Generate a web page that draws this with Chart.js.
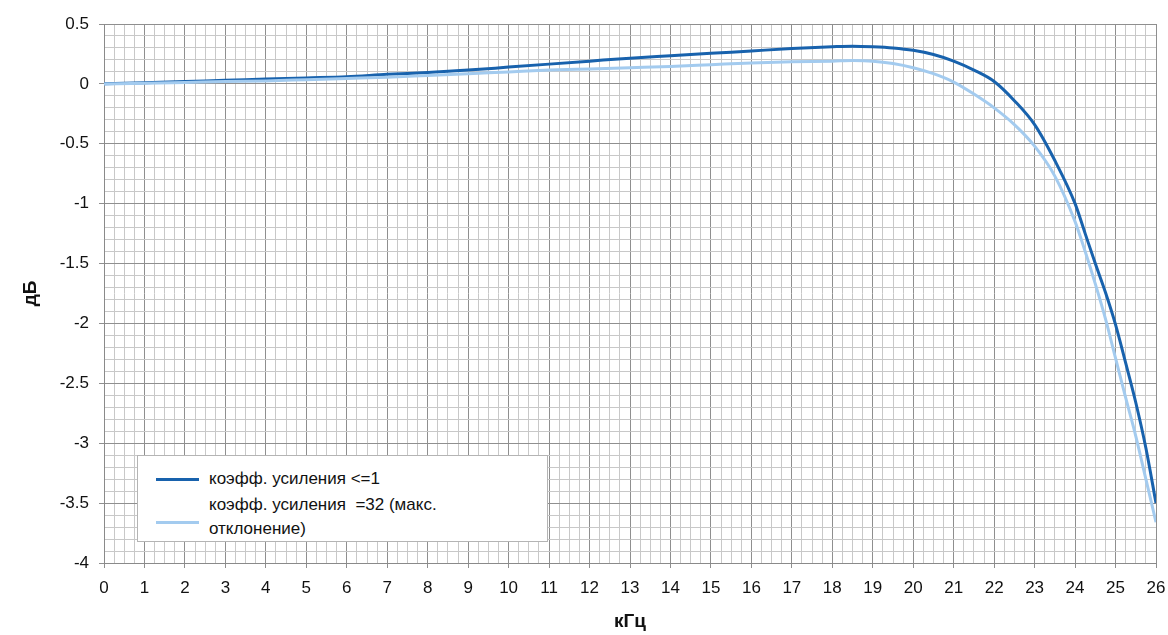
<!DOCTYPE html>
<html>
<head>
<meta charset="utf-8">
<script src="https://cdn.jsdelivr.net/npm/chart.js@4/dist/chart.umd.min.js"></script>
<style>
  body { margin: 0; background: #fff; }
  #wrap { position: relative; width: 1168px; height: 635px; }
  #legend {
    position: absolute; left: 137px; top: 455px; width: 411px; height: 87px;
    background: #fff; border: 1px solid #b4b4b4; box-sizing: border-box;
    font: 17px "Liberation Sans", Arial, sans-serif; color: #111;
  }
  #legend .sw { position: absolute; left: 18px; width: 43px; height: 3px; }
  #legend .tx { position: absolute; left: 71px; line-height: 24px; white-space: nowrap; }
</style>
</head>
<body>
<div id="wrap">
  <canvas id="chart"></canvas>
  <div id="legend">
    <div class="sw" id="sw1" style="top:22px"></div>
    <div class="tx" id="tx1" style="top:11px"></div>
    <div class="sw" id="sw2" style="top:65px"></div>
    <div class="tx" id="tx2" style="top:37px"></div>
  </div>
</div>
<script>
// frequency points, kHz
const freqs = [0, 1, 2, 3, 4, 5, 6, 7, 8, 9, 10, 11, 12, 13, 14, 15, 16, 17, 18, 18.5, 19, 19.5, 20, 20.5, 21, 21.5, 22, 22.5, 23, 23.5, 24, 24.25, 24.5, 24.75, 25, 25.25, 25.5, 25.75, 26];

// gain <= 1
const gainLow = [0, 0.01, 0.02, 0.03, 0.04, 0.05, 0.06, 0.08, 0.095, 0.115, 0.14, 0.165, 0.19, 0.215, 0.235, 0.255, 0.275, 0.295, 0.31, 0.315, 0.31, 0.3, 0.28, 0.245, 0.19, 0.115, 0.02, -0.14, -0.34, -0.64, -1.0, -1.25, -1.5, -1.74, -2.01, -2.33, -2.66, -3.04, -3.5];

// gain = 32 (max deviation)
const gainHigh = [0, 0.005, 0.012, 0.02, 0.025, 0.035, 0.045, 0.055, 0.07, 0.085, 0.1, 0.115, 0.125, 0.135, 0.145, 0.16, 0.175, 0.185, 0.19, 0.195, 0.19, 0.17, 0.135, 0.085, 0.015, -0.085, -0.2, -0.34, -0.52, -0.77, -1.15, -1.4, -1.67, -1.96, -2.29, -2.62, -2.94, -3.3, -3.66];

const seriesLabels = ['коэфф. усиления <=1', 'коэфф. усиления  =32 (макс. отклонение)'];
const seriesColors = ['#1862ad', '#a3cbef'];

const yTickLabels = ['0.5', '0', '-0.5', '-1', '-1.5', '-2', '-2.5', '-3', '-3.5', '-4'];

// legend
document.getElementById('sw1').style.background = seriesColors[0];
document.getElementById('sw2').style.background = seriesColors[1];
document.getElementById('tx1').textContent = seriesLabels[0];
document.getElementById('tx2').innerHTML = 'коэфф. усиления &nbsp;=32 (макс.<br>отклонение)';

const isInt = v => Math.abs(v - Math.round(v)) < 1e-6;
const isHalf = v => Math.abs(v * 2 - Math.round(v * 2)) < 1e-6;

const ctx = document.getElementById('chart').getContext('2d');
new Chart(ctx, {
    type: 'line',
    data: {
        datasets: [{
            label: seriesLabels[0],
            data: freqs.map((f, i) => ({ x: f, y: gainLow[i] })),
            borderColor: seriesColors[0],
            borderWidth: 3,
            pointRadius: 0,
            cubicInterpolationMode: 'monotone',
            order: 1
        }, {
            label: seriesLabels[1],
            data: freqs.map((f, i) => ({ x: f, y: gainHigh[i] })),
            borderColor: seriesColors[1],
            borderWidth: 3,
            pointRadius: 0,
            cubicInterpolationMode: 'monotone',
            order: 0
        }]
    },
    options: {
        responsive: true,
        maintainAspectRatio: false,
        animation: false,
        layout: { padding: { top: 24, right: 12, left: 0, bottom: 0 } },
        plugins: { legend: { display: false }, tooltip: { enabled: false } },
        scales: {
            x: {
                type: 'linear',
                min: 0, max: 26,
                afterFit: s => { s.height = 72; s.paddingRight = 0; s.paddingLeft = 0; },
                border: { display: true, color: '#8a8a8a' },
                grid: {
                    color: c => isInt(c.tick.value) ? '#8f8f8f' : '#c8c8c8',
                    tickColor: c => isInt(c.tick.value) ? '#8f8f8f' : 'transparent',
                    tickLength: 5
                },
                ticks: {
                    stepSize: 0.25,
                    autoSkip: false,
                    maxTicksLimit: 200,
                    maxRotation: 0,
                    padding: 10,
                    color: '#111',
                    font: { family: 'Liberation Sans', size: 17 },
                    callback: v => isInt(v) ? String(Math.round(v)) : ''
                },
                title: {
                    display: true,
                    text: 'кГц',
                    color: '#111',
                    font: { family: 'Liberation Sans', size: 19, weight: 'bold' },
                    padding: { top: 0, bottom: 2 }
                }
            },
            y: {
                min: -4, max: 0.5,
                afterFit: s => { s.width = 104; },
                border: { display: true, color: '#8a8a8a' },
                grid: {
                    color: c => isHalf(c.tick.value) ? '#8f8f8f' : '#c8c8c8',
                    tickColor: c => isHalf(c.tick.value) ? '#8f8f8f' : 'transparent',
                    tickLength: 5
                },
                ticks: {
                    stepSize: 0.1,
                    autoSkip: false,
                    maxTicksLimit: 200,
                    padding: 10,
                    color: '#111',
                    font: { family: 'Liberation Sans', size: 17 },
                    callback: v => {
                        if (!isHalf(v)) return '';
                        const idx = Math.round((0.5 - v) * 2);
                        return yTickLabels[idx];
                    }
                },
                title: {
                    display: true,
                    text: 'дБ',
                    color: '#111',
                    font: { family: 'Liberation Sans', size: 19, weight: 'bold' },
                    padding: { top: 19, bottom: 0 }
                }
            }
        }
    }
});
</script>
</body>
</html>
